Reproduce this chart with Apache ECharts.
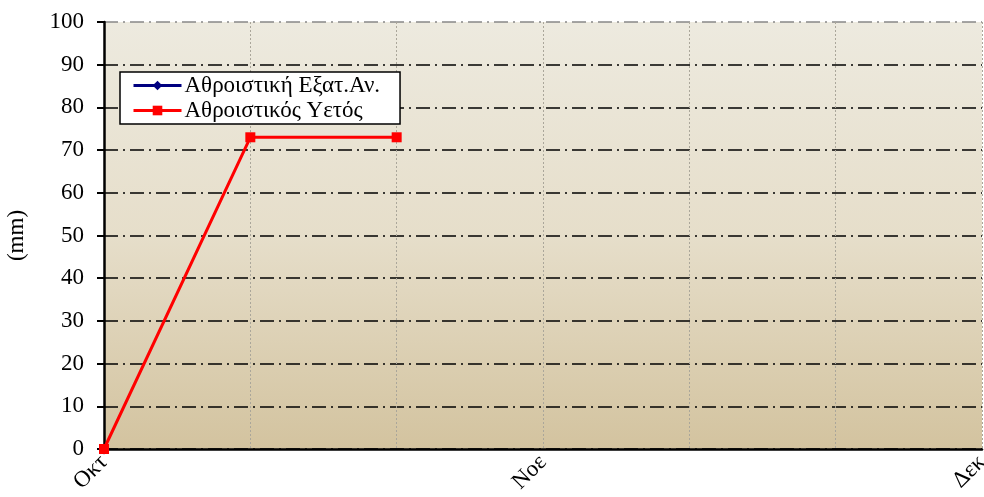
<!DOCTYPE html>
<html>
<head>
<meta charset="utf-8">
<script src="https://cdn.jsdelivr.net/npm/echarts@6/dist/echarts.min.js"></script>
<style>
  html, body { margin: 0; padding: 0; background: #fff; }
  #chart { width: 984px; height: 497px; }
</style>
</head>
<body>
<div id="chart"></div>
<script>
// x categories, every ~10 days, labels only at month starts
const categories = ['Οκτ', '', '', 'Νοε', '', '', 'Δεκ'];
const evapCum = [0];
const rainCum = [0, 73, 73];
const seriesNames = ['Αθροιστική Εξατ.Αν.', 'Αθροιστικός Υετός'];

const font = 'Liberation Serif';

// grid line colours from 0 up to 100, top one is grey like the frame
const splitColors = ['#000', '#000', '#000', '#000', '#000', '#000', '#000', '#000', '#000', '#000', '#888'];

const chart = echarts.init(document.getElementById('chart'));
chart.setOption({
  animation: false,
  textStyle: { fontFamily: font },
  grid: {
    left: 104, right: 2, top: 22, bottom: 48,
    outerBoundsMode: 'none',
    containLabel: false,
    show: true,
    borderWidth: 0,
    backgroundColor: {
      type: 'linear', x: 0, y: 0, x2: 0, y2: 1,
      colorStops: [
        { offset: 0, color: '#EDEADF' },
        { offset: 0.5, color: '#E6DECA' },
        { offset: 1, color: '#D3C39F' },
      ],
    },
  },
  legend: {
    left: 120, top: 72,
    orient: 'vertical',
    itemWidth: 48, itemHeight: 12, itemGap: 2,
    padding: [2, 20, 2, 12],
    backgroundColor: '#fff',
    borderColor: '#000', borderWidth: 1.5, borderRadius: 0,
    lineStyle: { width: 3 },
    textStyle: { fontFamily: font, fontSize: 23, color: '#000', padding: [0, 0, 0, -2] },
    data: seriesNames,
  },
  xAxis: {
    type: 'category',
    data: categories,
    boundaryGap: false,
    axisLine: { lineStyle: { color: '#000', width: 2.5 } },
    axisTick: { show: false },
    axisLabel: {
      interval: 0, rotate: 45, margin: 10,
      fontSize: 23, color: '#000', fontFamily: font,
    },
    splitLine: { show: true, lineStyle: { color: '#aaa69a', type: [2, 2], width: 1 } },
  },
  yAxis: {
    type: 'value',
    min: 0, max: 100, interval: 10,
    name: '(mm)',
    nameLocation: 'middle',
    nameGap: 76,
    nameRotate: 90,
    nameTextStyle: { fontSize: 23, color: '#000', fontFamily: font },
    axisLine: { show: true, lineStyle: { color: '#000', width: 2.5 } },
    axisTick: { show: true, length: 7, lineStyle: { color: '#000', width: 2 } },
    axisLabel: { fontSize: 23, color: '#000', fontFamily: font, margin: 20 },
    splitLine: {
      show: true,
      lineStyle: { color: splitColors, type: [14, 5, 2, 5], width: 1.5 },
    },
  },
  series: [
    {
      name: seriesNames[0],
      type: 'line',
      data: evapCum,
      symbol: 'diamond', symbolSize: 11,
      itemStyle: { color: '#000080' },
      lineStyle: { color: '#000080', width: 3 },
    },
    {
      name: seriesNames[1],
      type: 'line',
      data: rainCum,
      symbol: 'rect', symbolSize: 10,
      itemStyle: { color: '#ff0000' },
      lineStyle: { color: '#ff0000', width: 3 },
    },
  ],
});
</script>
</body>
</html>
